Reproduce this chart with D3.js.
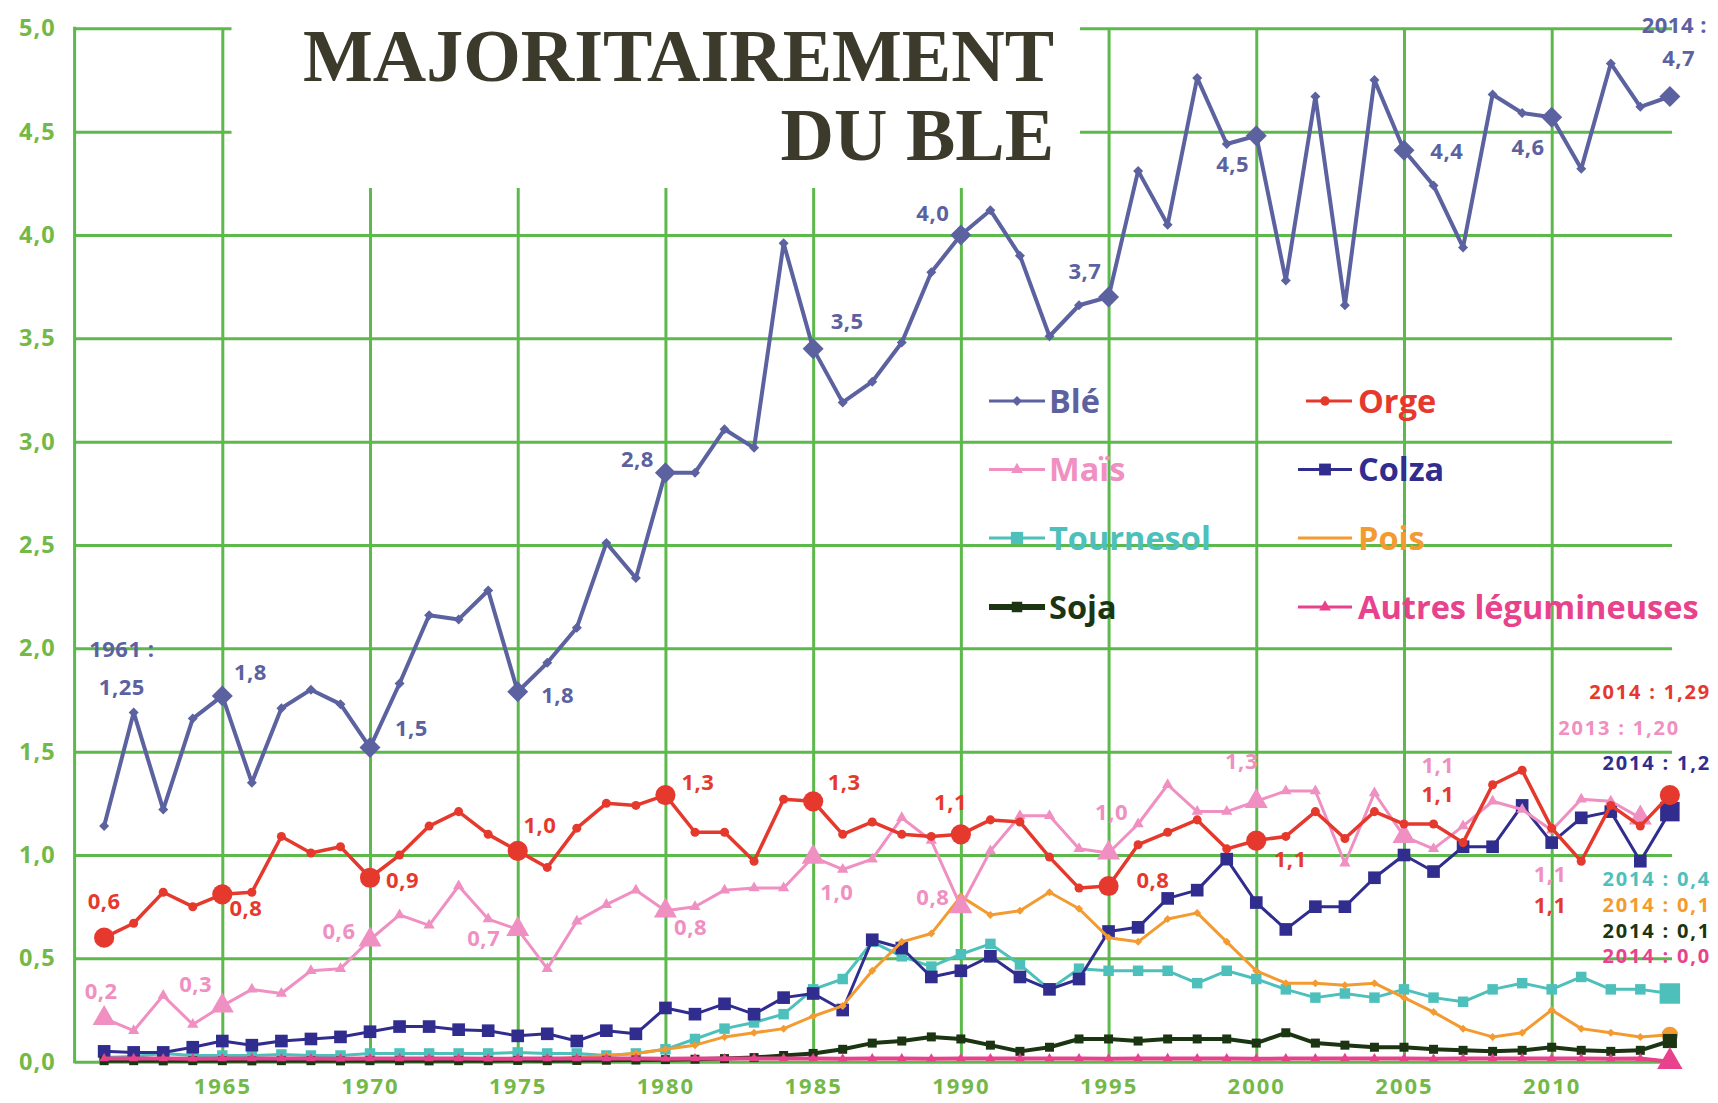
<!DOCTYPE html>
<html><head><meta charset="utf-8">
<script src="https://cdn.jsdelivr.net/npm/d3@7"></script>
<style>
body{margin:0;background:#fff}
svg{display:block}
</style>
</head><body>
<svg id="c" width="1718" height="1103"></svg>
<script>
// ---------------- DATA ----------------
const years = [1961,1962,1963,1964,1965,1966,1967,1968,1969,1970,
  1971,1972,1973,1974,1975,1976,1977,1978,1979,1980,
  1981,1982,1983,1984,1985,1986,1987,1988,1989,1990,
  1991,1992,1993,1994,1995,1996,1997,1998,1999,2000,
  2001,2002,2003,2004,2005,2006,2007,2008,2009,2010,
  2011,2012,2013,2014];

const ble = [1.14,1.69,1.22,1.66,1.77,1.35,1.71,1.80,1.73,1.52,
  1.83,2.16,2.14,2.28,1.79,1.93,2.10,2.51,2.34,2.85,
  2.85,3.06,2.97,3.96,3.45,3.19,3.29,3.48,3.82,4.00,
  4.12,3.90,3.51,3.66,3.70,4.31,4.05,4.76,4.44,4.48,
  3.78,4.67,3.66,4.75,4.41,4.24,3.94,4.68,4.59,4.57,
  4.32,4.83,4.62,4.67];

const orge = [0.60,0.67,0.82,0.75,0.81,0.82,1.09,1.01,1.04,0.89,
  1.00,1.14,1.21,1.10,1.02,0.94,1.13,1.25,1.24,1.29,
  1.11,1.11,0.97,1.27,1.26,1.10,1.16,1.10,1.09,1.10,
  1.17,1.16,0.99,0.84,0.85,1.05,1.11,1.17,1.03,1.07,
  1.09,1.21,1.08,1.21,1.15,1.15,1.06,1.34,1.41,1.13,
  0.97,1.24,1.14,1.29];

const mais = [0.21,0.15,0.32,0.18,0.27,0.35,0.33,0.44,0.45,0.59,
  0.71,0.66,0.85,0.69,0.64,0.45,0.68,0.76,0.83,0.73,
  0.75,0.83,0.84,0.84,0.99,0.93,0.98,1.18,1.07,0.75,
  1.02,1.19,1.19,1.03,1.01,1.15,1.34,1.21,1.21,1.26,
  1.31,1.31,0.96,1.30,1.09,1.03,1.14,1.26,1.22,1.12,
  1.27,1.26,1.18,null];

const colza = [0.05,0.045,0.045,0.07,0.10,0.08,0.10,0.11,0.12,0.145,
  0.17,0.17,0.155,0.15,0.125,0.135,0.10,0.15,0.135,0.26,
  0.23,0.28,0.23,0.31,0.33,0.25,0.59,0.55,0.41,0.44,
  0.51,0.41,0.35,0.40,0.63,0.65,0.79,0.83,0.98,0.77,
  0.64,0.75,0.75,0.89,1.00,0.92,1.04,1.04,1.24,1.06,
  1.18,1.21,0.97,1.21];

const tournesol = [0.02,0.025,0.04,0.03,0.03,0.03,0.035,0.03,0.03,0.04,
  0.04,0.04,0.04,0.04,0.045,0.04,0.04,0.03,0.04,0.06,
  0.11,0.16,0.19,0.23,0.35,0.40,0.58,0.51,0.46,0.52,
  0.57,0.47,0.35,0.45,0.44,0.44,0.44,0.38,0.44,0.40,
  0.35,0.31,0.33,0.31,0.35,0.31,0.29,0.35,0.38,0.35,
  0.41,0.35,0.35,0.33];

const pois = [0.01,0.012,0.01,0.011,0.01,0.012,0.01,0.011,0.01,0.012,
  0.011,0.01,0.012,0.011,0.013,0.012,0.02,0.03,0.04,0.06,
  0.08,0.12,0.14,0.16,0.22,0.27,0.44,0.58,0.62,0.80,
  0.71,0.73,0.82,0.74,0.60,0.58,0.69,0.72,0.58,0.44,
  0.38,0.38,0.37,0.38,0.31,0.24,0.16,0.12,0.14,0.25,
  0.16,0.14,0.12,0.13];

const soja = [0.005,0.005,0.004,0.005,0.005,0.004,0.005,0.005,0.004,0.005,
  0.005,0.004,0.005,0.005,0.006,0.005,0.006,0.007,0.008,0.01,
  0.012,0.015,0.02,0.03,0.04,0.06,0.09,0.10,0.12,0.11,
  0.08,0.05,0.07,0.11,0.11,0.10,0.11,0.11,0.11,0.09,
  0.14,0.09,0.08,0.07,0.07,0.06,0.055,0.05,0.055,0.07,
  0.055,0.05,0.055,0.10];

const autres = [0.015,0.016,0.015,0.014,0.015,0.016,0.015,0.015,0.014,0.015,
  0.016,0.015,0.015,0.014,0.015,0.015,0.016,0.015,0.015,0.014,
  0.015,0.015,0.016,0.015,0.015,0.014,0.015,0.015,0.014,0.015,
  0.015,0.016,0.015,0.015,0.014,0.015,0.016,0.015,0.015,0.014,
  0.015,0.015,0.016,0.015,0.015,0.014,0.015,0.015,0.016,0.015,
  0.015,0.014,0.015,0.0];

const yTickValues = [0,0.5,1,1.5,2,2.5,3,3.5,4,4.5,5];
const xTickValues = [1965,1970,1975,1980,1985,1990,1995,2000,2005,2010];

const titleLines = ["MAJORITAIREMENT", "DU BLE"];
const legendLeft = ["Blé","Maïs","Tournesol","Soja"];
const legendRight = ["Orge","Colza","Pois","Autres légumineuses"];

// value annotations: [text, year position, value position]
const bleNotes = [["1961 :",1961.6,2.00],["1,25",1961.6,1.82],["1,8",1965.95,1.89],["1,5",1971.4,1.62],
  ["1,8",1976.35,1.78],["2,8",1979.05,2.92],["3,5",1986.15,3.59],["4,0",1989.05,4.11],["3,7",1994.2,3.83],
  ["4,5",1999.2,4.35],["4,4",2006.45,4.41],["4,6",2009.2,4.43],["2014 :",2014.15,5.02],["4,7",2014.3,4.86]];
const orgeNotes = [["0,6",1961.0,0.78],["0,8",1965.8,0.75],["0,9",1971.1,0.885],["1,0",1975.75,1.15],
  ["1,3",1981.1,1.357],["1,3",1986.05,1.357],["1,1",1989.65,1.26],["0,8",1996.5,0.885],
  ["1,1",2001.15,0.985],["1,1",2006.15,1.30],["1,1",2009.95,0.765]];
const maisNotes = [["0,2",1960.9,0.345],["0,3",1964.1,0.38],["0,6",1968.95,0.636],["0,7",1973.85,0.604],
  ["0,8",1980.85,0.657],["1,0",1985.8,0.827],["0,8",1989.05,0.80],["1,0",1995.1,1.214],
  ["1,3",1999.5,1.458],["1,1",2006.15,1.442],["1,1",2009.95,0.911]];
// end labels: [text, series key, value position]
const endNotes = [["2014 : 1,29","orge",1.789],["2013 : 1,20","mais",1.619],["2014 : 1,2","colza",1.45],
  ["2014 : 0,4","tournesol",0.886],["2014 : 0,1","pois",0.762],["2014 : 0,1","soja",0.637],["2014 : 0,0","autres",0.514]];

// ---------------- STYLE / LAYOUT ----------------
const COLORS = {ble:"#5b629f", orge:"#e5392d", mais:"#f08fc1", colza:"#302d8f",
  tournesol:"#4dc0bb", pois:"#f39a30", soja:"#1b3512", autres:"#e8428d"};
const GRID = "#5db94b";
const AXIS_TXT = "#74b947";
const SANS = "'Open Sans','Liberation Sans',sans-serif";

const svg = d3.select("#c");
const x = d3.scaleLinear().domain([1960, 2010]).range([74.6, 1551.7]);
const y = d3.scaleLinear().domain([0, 5]).range([1061.7, 28.3]);
const gridRight = 1672;

// ---- grid (axes) ----
const gy = svg.append("g").attr("transform", `translate(${x(1960)},0)`)
  .call(d3.axisLeft(y).tickValues(yTickValues)
    .tickSize(-(gridRight - x(1960))).tickPadding(19)
    .tickFormat(d => d3.format(".1f")(d).replace(".", ",")));
gy.select(".domain").remove();
gy.selectAll(".tick line").attr("stroke", GRID).attr("stroke-width", 3);
gy.selectAll(".tick text").attr("fill", AXIS_TXT).attr("font-family", SANS)
  .attr("font-weight", 700).attr("font-size", 23.5).attr("letter-spacing", 1);

const gx = svg.append("g").attr("transform", `translate(0,${y(0)})`)
  .call(d3.axisBottom(x).tickValues(xTickValues)
    .tickSize(-(y(0) - y(5))).tickPadding(17).tickFormat(d3.format("d")));
gx.select(".domain").remove();
gx.selectAll(".tick line").attr("stroke", GRID).attr("stroke-width", 3);
gx.selectAll(".tick text").attr("fill", AXIS_TXT).attr("font-family", SANS)
  .attr("font-weight", 700).attr("font-size", 22).attr("letter-spacing", 2);

// left axis line
svg.append("line").attr("x1", x(1960)).attr("x2", x(1960)).attr("y1", y(5) - 1.5).attr("y2", y(0) + 1.5)
  .attr("stroke", GRID).attr("stroke-width", 3);

// title box masking grid
svg.append("rect").attr("x", 231.5).attr("y", 0).attr("width", 1080 - 231.5).attr("height", 188).attr("fill", "#fff");
const title = svg.append("g").attr("font-family", "'Liberation Serif','Times New Roman',serif")
  .attr("font-weight", 700).attr("font-size", 74).attr("fill", "#3c3a2b").attr("text-anchor", "end");
title.selectAll("text").data(titleLines).join("text")
  .attr("x", 1054).attr("y", (d, i) => 81 + i * 79).text(d => d);

// ---- series ----
const sym = {
  diamond: s => d3.symbol(d3.symbolSquare, s)(),
  square: s => d3.symbol(d3.symbolSquare, s)(),
  circle: s => d3.symbol(d3.symbolCircle, s)(),
  triangle: s => d3.symbol(d3.symbolTriangle, s)()
};
const seriesDefs = [
  {key:"tournesol", vals:tournesol, w:3, shape:"square", small:110, big:420, bigYears:[2014]},
  {key:"colza", vals:colza, w:3, shape:"square", small:160, big:380, bigYears:[2014]},
  {key:"pois", vals:pois, w:3, shape:"diamond", small:32, big:210, bigYears:[2014], bigShape:"circle"},
  {key:"mais", vals:mais, w:3, shape:"triangle", small:55, big:230,
    bigYears:[1961,1965,1970,1975,1980,1985,1990,1995,2000,2005,2013]},
  {key:"orge", vals:orge, w:3.5, shape:"circle", small:64, big:320,
    bigYears:[1961,1965,1970,1975,1980,1985,1990,1995,2000,2014]},
  {key:"ble", vals:ble, w:4, shape:"diamond", small:50, big:220,
    bigYears:[1965,1970,1975,1980,1985,1990,1995,2000,2005,2010,2014]},
  {key:"soja", vals:soja, w:4, shape:"square", small:81, big:200, bigYears:[2014]},
  {key:"autres", vals:autres, w:4, shape:"triangle", small:40, big:280, bigYears:[2014]}
];
const line = d3.line().defined(d => d.v != null).x(d => x(d.yr)).y(d => y(d.v));

seriesDefs.forEach(s => {
  const pts = years.map((yr, i) => ({yr, v: s.vals[i]}));
  const g = svg.append("g");
  g.append("path").datum(pts).attr("d", line).attr("fill", "none")
    .attr("stroke", COLORS[s.key]).attr("stroke-width", s.w).attr("stroke-linejoin", "round");
  g.selectAll("path.m").data(pts.filter(d => d.v != null)).join("path").attr("class", "m")
    .attr("d", d => {
      const big = s.bigYears.includes(d.yr);
      const shp = big && s.bigShape ? s.bigShape : s.shape;
      return sym[shp](big ? s.big : s.small);
    })
    .attr("transform", d => {
      const big = s.bigYears.includes(d.yr);
      const shp = big && s.bigShape ? s.bigShape : s.shape;
      return `translate(${x(d.yr)},${y(d.v)})` + (shp === "diamond" ? " rotate(45)" : "");
    })
    .attr("fill", COLORS[s.key]);
});

// ---- annotations ----
function notes(arr, color, size) {
  svg.append("g").selectAll("text").data(arr).join("text")
    .attr("x", d => x(d[1])).attr("y", d => y(d[2]))
    .attr("text-anchor", "middle").attr("dominant-baseline", "central")
    .attr("font-family", SANS).attr("font-weight", 700).attr("font-size", size)
    .attr("letter-spacing", 0.5).attr("fill", color).text(d => d[0]);
}
notes(bleNotes, COLORS.ble, 22);
notes(orgeNotes, COLORS.orge, 22);
notes(maisNotes, COLORS.mais, 22);

svg.append("g").selectAll("text").data(endNotes).join("text")
  .attr("x", d => d[1] === "mais" ? 1680 : 1711).attr("y", d => y(d[2]))
  .attr("text-anchor", "end").attr("dominant-baseline", "central")
  .attr("font-family", SANS).attr("font-weight", 700).attr("font-size", 20)
  .attr("letter-spacing", 1.8).attr("fill", d => COLORS[d[1]]).text(d => d[0]);

// ---- legend ----
const legendRows = [401, 469.5, 538, 607];
const legL = [{name:legendLeft[0], key:"ble", shape:"diamond", size:50, w:3},
  {name:legendLeft[1], key:"mais", shape:"triangle", size:60, w:3},
  {name:legendLeft[2], key:"tournesol", shape:"square", size:150, w:3},
  {name:legendLeft[3], key:"soja", shape:"square", size:110, w:6}];
const legR = [{name:legendRight[0], key:"orge", shape:"circle", size:70, w:3, x1:1306},
  {name:legendRight[1], key:"colza", shape:"square", size:140, w:3, x1:1298},
  {name:legendRight[2], key:"pois", shape:null, size:0, w:3, x1:1298},
  {name:legendRight[3], key:"autres", shape:"triangle", size:60, w:3, x1:1298}];

function legend(items, x1, x2, tx) {
  const g = svg.append("g").selectAll("g").data(items).join("g")
    .attr("transform", (d, i) => `translate(0,${legendRows[i]})`);
  g.append("line").attr("x1", d => d.x1 || x1).attr("x2", x2).attr("y1", 0).attr("y2", 0)
    .attr("stroke", d => COLORS[d.key]).attr("stroke-width", d => d.w);
  g.filter(d => d.shape).append("path")
    .attr("d", d => sym[d.shape](d.size))
    .attr("transform", d => `translate(${(x1 + x2) / 2},0)` + (d.shape === "diamond" ? " rotate(45)" : ""))
    .attr("fill", d => COLORS[d.key]);
  g.append("text").attr("x", tx).attr("y", 11.5)
    .attr("font-family", SANS).attr("font-weight", 700).attr("font-size", 32.5)
    .attr("fill", d => COLORS[d.key]).text(d => d.name);
}
legend(legL, 989, 1045, 1049);
legend(legR, 1298, 1352, 1358);
</script>
</body></html>
